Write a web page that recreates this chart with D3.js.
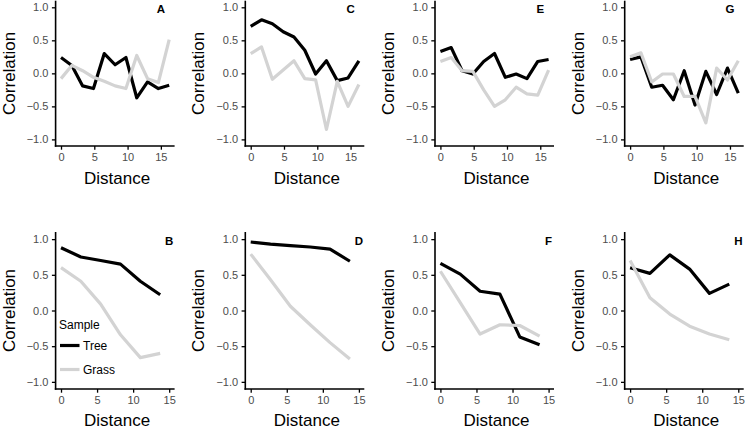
<!DOCTYPE html>
<html>
<head>
<meta charset="utf-8">
<script src="https://cdn.jsdelivr.net/npm/d3@7"></script>
<style>
  body { margin: 0; background: #fff; }
  svg { display: block; font-family: "Liberation Sans", Arial, sans-serif; }
</style>
</head>
<body>
<svg></svg>
<script>
// distances (top row: 11 lags, bottom row: 6 lags)
const xTop = [0, 1.625, 3.25, 4.875, 6.5, 8.125, 9.75, 11.375, 13, 14.625, 16.25]
const xBottom = [0, 2.75, 5.5, 8.25, 11, 13.75]

const treeA = [0.24, 0.12, -0.19, -0.23, 0.30, 0.13, 0.24, -0.37, -0.13, -0.23, -0.18]
const grassA = [-0.08, 0.12, 0.04, -0.06, -0.12, -0.19, -0.23, 0.27, -0.08, -0.14, 0.51]
const treeC = [0.71, 0.81, 0.75, 0.63, 0.55, 0.35, -0.01, 0.19, -0.11, -0.07, 0.19]
const grassC = [0.30, 0.40, -0.09, 0.05, 0.19, -0.08, -0.10, -0.85, -0.12, -0.50, -0.17]
const treeE = [0.33, 0.39, 0.04, -0.01, 0.18, 0.30, -0.06, -0.01, -0.08, 0.18, 0.21]
const grassE = [0.18, 0.24, 0.04, 0.03, -0.25, -0.50, -0.40, -0.21, -0.31, -0.33, 0.05]
const treeG = [0.21, 0.25, -0.21, -0.18, -0.40, 0.04, -0.48, 0.03, -0.32, 0.08, -0.30]
const grassG = [0.25, 0.31, -0.13, -0.01, -0.01, -0.35, -0.35, -0.75, 0.08, -0.10, 0.19]

const treeB = [0.88, 0.75, 0.70, 0.65, 0.41, 0.22]
const grassB = [0.60, 0.41, 0.09, -0.34, -0.66, -0.60]
const treeD = [0.96, 0.93, 0.91, 0.89, 0.86, 0.69]
const grassD = [0.79, 0.43, 0.06, -0.20, -0.45, -0.68]
const treeF = [0.66, 0.51, 0.27, 0.23, -0.37, -0.48]
const grassF = [0.55, 0.11, -0.33, -0.20, -0.21, -0.36]
const treeH = [0.60, 0.52, 0.78, 0.58, 0.24, 0.37]
const grassH = [0.70, 0.18, -0.05, -0.22, -0.33, -0.41]

const xTicks = [0, 5, 10, 15]
const yTicks = [-1, -0.5, 0, 0.5, 1]
const samples = ["Tree", "Grass"]
const colors = {Tree: "#000000", Grass: "#d3d3d3"}

const panels = [
  {label: "A", row: 0, col: 0, xs: xTop, tree: treeA, grass: grassA},
  {label: "C", row: 0, col: 1, xs: xTop, tree: treeC, grass: grassC},
  {label: "E", row: 0, col: 2, xs: xTop, tree: treeE, grass: grassE},
  {label: "G", row: 0, col: 3, xs: xTop, tree: treeG, grass: grassG},
  {label: "B", row: 1, col: 0, xs: xBottom, tree: treeB, grass: grassB},
  {label: "D", row: 1, col: 1, xs: xBottom, tree: treeD, grass: grassD},
  {label: "F", row: 1, col: 2, xs: xBottom, tree: treeF, grass: grassF},
  {label: "H", row: 1, col: 3, xs: xBottom, tree: treeH, grass: grassH}
]

const w = 746
const h = 429
const pw = 119
const colStep = 189.7
const rows = [
  {top: 0.7, bottom: 146, xDomain: [-0.8125, 17.0625]},
  {top: 232, bottom: 389, xDomain: [-0.75, 15.75]}
]

const svg = d3.select("svg").attr("width", w).attr("height", h)

const drawPanel = (p) => {
  const r = rows[p.row]
  const left = 55.6 + p.col * colStep
  const xScale = d3.scaleLinear().domain(r.xDomain).range([left, left + pw])
  const yScale = d3.scaleLinear().domain([-1.1, 1.1]).range([r.bottom, r.top])
  const g = svg.append("g")

  const line = d3.line().x(d => xScale(d[0])).y(d => yScale(d[1]))
  samples.forEach(s => {
    const vals = s == "Tree" ? p.tree : p.grass
    g.append("path")
      .datum(p.xs.map((x, i) => [x, vals[i]]))
      .attr("d", line)
      .attr("fill", "none")
      .attr("stroke", colors[s])
      .attr("stroke-width", 3.2)
      .attr("stroke-linejoin", "round")
  })

  const axisX = d3.axisBottom(xScale).tickValues(xTicks).tickFormat(d3.format("d")).tickSizeOuter(0).tickSize(3.7).tickPadding(3)
  const gx = g.append("g").attr("transform", "translate(0," + r.bottom + ")").call(axisX)
  const axisY = d3.axisLeft(yScale).tickValues(yTicks).tickFormat(d3.format(".1f")).tickSizeOuter(0).tickSize(3.7).tickPadding(3.5)
  const gy = g.append("g").attr("transform", "translate(" + left + ",0)").call(axisY)
  ;[gx, gy].forEach(a => {
    a.select(".domain").attr("stroke", "#000").attr("stroke-width", 1.6)
    a.selectAll(".tick line").attr("stroke", "#000").attr("stroke-width", 1.3)
    a.selectAll(".tick text").attr("fill", "#4d4d4d").style("font-size", "11px")
  })
  gx.select(".domain").attr("d", "M" + (left - 0.8) + ",0H" + (left + pw))
  gy.select(".domain").attr("d", "M0," + r.top + "V" + (r.bottom + 0.8))

  g.append("text")
    .attr("x", left + pw / 2 + 2)
    .attr("y", Math.min(r.bottom + 38, h - 3))
    .attr("text-anchor", "middle")
    .style("font-size", "17px")
    .text("Distance")
  g.append("text")
    .attr("transform", "translate(" + (left - 41) + "," + ((r.top + r.bottom) / 2) + ") rotate(-90)")
    .attr("text-anchor", "middle")
    .style("font-size", "17px")
    .text("Correlation")

  g.append("text")
    .attr("x", xScale(15))
    .attr("y", yScale(1) + 6)
    .attr("text-anchor", "middle")
    .style("font-size", "11.5px")
    .style("font-weight", "bold")
    .text(p.label)
}

panels.forEach(drawPanel)

// legend inside panel B
const legend = svg.append("g").attr("transform", "translate(59,325)")
legend.append("text").attr("x", 0).attr("y", 4).style("font-size", "12px").text("Sample")
samples.forEach((s, i) => {
  const ly = 20.5 + i * 24
  legend.append("line").attr("x1", 1).attr("x2", 20.5).attr("y1", ly).attr("y2", ly)
    .attr("stroke", colors[s]).attr("stroke-width", 3.2)
  legend.append("text").attr("x", 24).attr("y", ly + 4.5).style("font-size", "12px").text(s)
})
</script>
</body>
</html>
